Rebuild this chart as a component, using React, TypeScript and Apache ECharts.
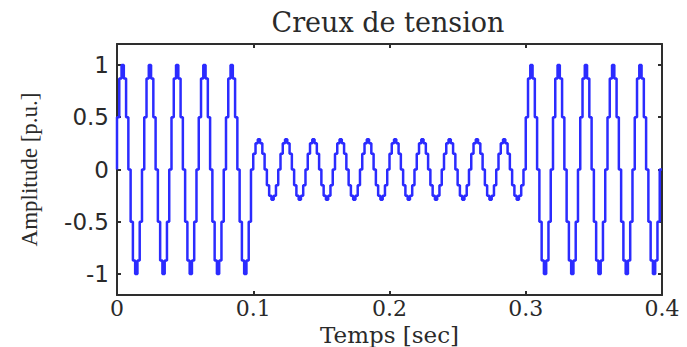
import React, { useEffect, useRef } from "react";
import * as echarts from "echarts";

const fullCycle = [0, 0.5, 0.87, 1, 0.87, 0.5, 0, -0.5, -0.87, -1, -0.87, -0.5];
const sagCycle = [0, 0.15, 0.25, 0.29, 0.25, 0.15, 0, -0.15, -0.25, -0.29, -0.25, -0.15];
// Segments: normal (0-0.1 s), sag (0.1-0.3 s), normal (0.3-0.4 s)
const segmentShapes = [fullCycle, sagCycle, fullCycle];
const segmentCycles = [5, 10, 5];
const finalSample = 0;
const periodSec = 0.02;

const xTicks = [0, 0.1, 0.2, 0.3, 0.4];
const yTicks = [-1, -0.5, 0, 0.5, 1];

const titleText = "Creux de tension";
const xName = "Temps [sec]";
const yName = "Amplitude [p.u.]";

function buildData(): [number, number][] {
  const out: [number, number][] = [];
  let k = 0;
  segmentShapes.forEach((shape, s) => {
    const dt = periodSec / shape.length;
    for (let c = 0; c < segmentCycles[s]; c++) {
      shape.forEach((v) => {
        out.push([+(k * dt).toFixed(6), v]);
        k++;
      });
    }
  });
  out.push([+(k * (periodSec / fullCycle.length)).toFixed(6), finalSample]);
  return out;
}

export default function App() {
  const ref = useRef<HTMLDivElement>(null);
  useEffect(() => {
    if (!ref.current) return;
    const chart = echarts.init(ref.current, undefined, { renderer: "svg" });
    const axisColor = "#2e2e2e";
    const xFmt = (v: number) => String(+v.toFixed(1));
    const line = { show: true, onZero: false, lineStyle: { color: axisColor, width: 2 } };
    const tick = { show: true, inside: true, length: 4, lineStyle: { color: axisColor, width: 2 } };
    chart.setOption({
      animation: false,
      backgroundColor: "#ffffff",
      grid: {
        left: 117,
        top: 44,
        width: 545,
        height: 251,
        containLabel: false,
        outerBoundsMode: "none",
      },
      graphic: [
        {
          type: "text",
          x: 388,
          y: 22,
          style: {
            text: titleText,
            font: "27px 'DejaVu Serif'",
            fill: "#2a2a2a",
            textAlign: "center",
            textVerticalAlign: "middle",
          },
        },
      ],
      xAxis: [
        {
          type: "value",
          position: "bottom",
          min: 0,
          max: 0.4,
          interval: 0.1,
          name: xName,
          nameLocation: "middle",
          nameGap: 28,
          nameMoveOverlap: false,
          nameTextStyle: { fontFamily: "DejaVu Serif", fontSize: 23, lineHeight: 23, color: "#2a2a2a" },
          axisLine: line,
          axisTick: tick,
          axisLabel: {
            fontFamily: "DejaVu Serif",
            fontSize: 22,
            lineHeight: 22,
            color: "#2a2a2a",
            margin: 2,
            customValues: xTicks,
            formatter: xFmt,
          },
          splitLine: { show: false },
        },
        {
          type: "value",
          position: "top",
          min: 0,
          max: 0.4,
          interval: 0.1,
          axisLine: line,
          axisTick: tick,
          axisLabel: { show: false },
          splitLine: { show: false },
        },
      ],
      yAxis: [
        {
          type: "value",
          position: "left",
          min: -1.2,
          max: 1.2,
          name: yName,
          nameLocation: "middle",
          nameGap: 76,
          nameMoveOverlap: false,
          nameTextStyle: { fontFamily: "'Liberation Serif', 'Times New Roman', serif", fontSize: 23, color: "#2a2a2a" },
          axisLine: line,
          axisTick: { ...tick, customValues: yTicks },
          axisLabel: {
            fontFamily: "DejaVu Sans",
            fontSize: 23,
            color: "#2a2a2a",
            margin: 8,
            customValues: yTicks,
          },
          splitLine: { show: false },
        },
        {
          type: "value",
          position: "right",
          min: -1.2,
          max: 1.2,
          axisLine: line,
          axisTick: { ...tick, customValues: yTicks },
          axisLabel: { show: false },
          splitLine: { show: false },
        },
      ],
      series: [
        {
          type: "line",
          xAxisIndex: 0,
          yAxisIndex: 0,
          step: "start",
          showSymbol: false,
          data: buildData(),
          lineStyle: { color: "#2b2bff", width: 2.5 },
        },
      ],
    });
    return () => chart.dispose();
  }, []);
  return (
    <div
      ref={ref}
      style={{ position: "fixed", left: 0, top: 0, width: 687, height: 347, background: "#fff" }}
    />
  );
}
